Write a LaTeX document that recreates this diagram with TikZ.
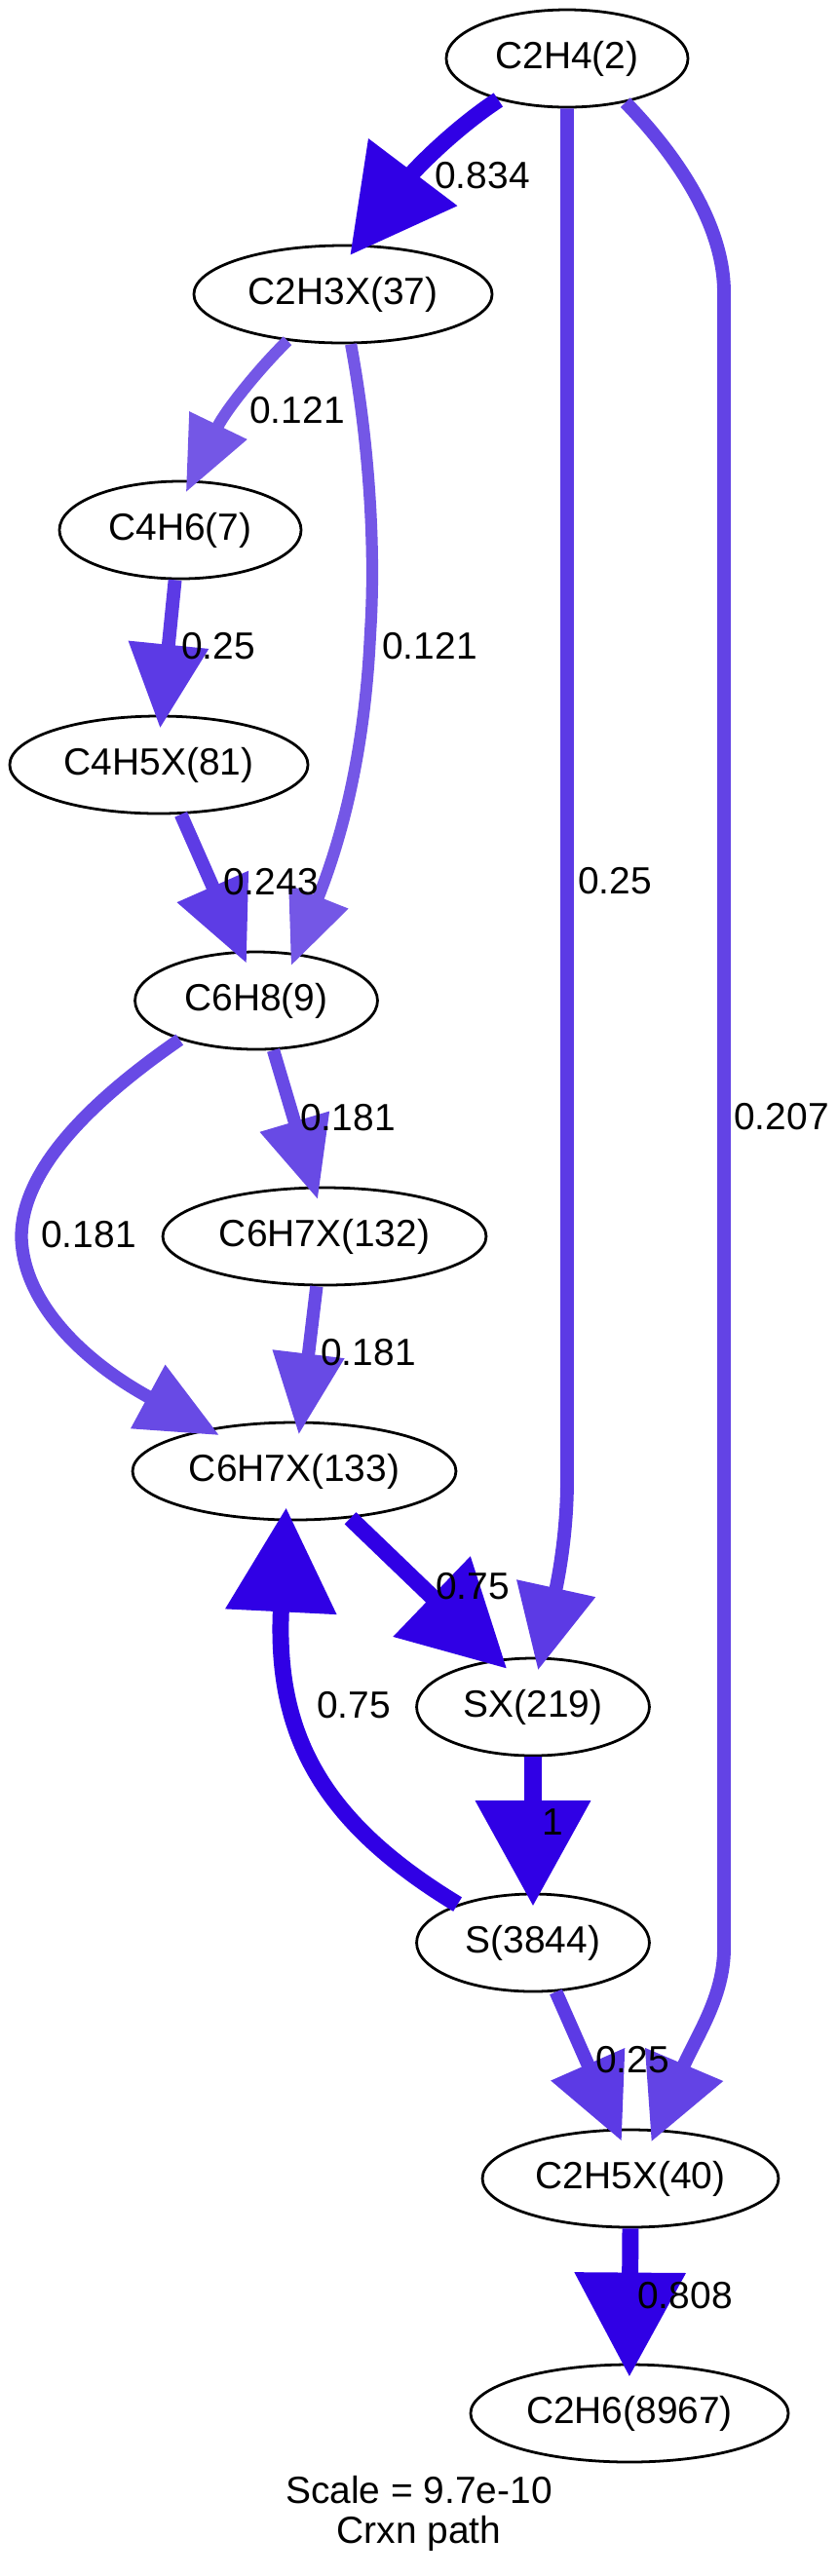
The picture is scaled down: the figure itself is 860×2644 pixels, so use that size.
\documentclass[tikz,border=0pt]{standalone}
\usepackage{fontspec}
\setmainfont{Liberation Sans}
\usetikzlibrary{shapes.geometric,arrows.meta}
\definecolor{cA}{RGB}{48,0,229}
\definecolor{cB}{RGB}{92,58,229}
\definecolor{cC}{RGB}{116,87,230}
\definecolor{cD}{RGB}{104,74,229}
\definecolor{cE}{RGB}{99,67,229}
\definecolor{cF}{RGB}{93,60,229}
\begin{document}
\begin{tikzpicture}[x=0.36pt,y=-0.36pt,
  sp/.style={draw,ellipse,line width=1pt,minimum height=36pt,inner sep=0pt,font=\fontsize{14pt}{16pt}\selectfont},
  lbl/.style={inner sep=0pt,font=\fontsize{14pt}{16pt}\selectfont},
  heavy/.style={draw=cA,line width=6.1pt,shorten >=-5pt,-{Triangle[length=38.5pt,width=39.6pt]}},
  heavyone/.style={draw=cA,line width=6.4pt,shorten >=-5pt,-{Triangle[length=39pt,width=41pt]}},
  wtf/.style={draw=cB,line width=5pt,shorten >=-5pt,-{Triangle[length=31pt,width=28.5pt]}},
  wtft/.style={draw=cF,line width=5pt,shorten >=-5pt,-{Triangle[length=31pt,width=27.5pt]}},
  wtz/.style={draw=cE,line width=5pt,shorten >=-5pt,-{Triangle[length=31pt,width=30pt]}},
  wei/.style={draw=cD,line width=4.8pt,shorten >=-5pt,-{Triangle[length=30pt,width=25.5pt]}},
  wot/.style={draw=cC,line width=4.4pt,shorten >=-5pt,-{Triangle[length=27.5pt,width=22.5pt]}}
]
\useasboundingbox (0,0) rectangle (860,2644);
% nodes
\node[sp,minimum width=89.3pt]  (A) at (582,60)   {C2H4(2)};
\node[sp,minimum width=110.2pt] (B) at (352,302)  {C2H3X(37)};
\node[sp,minimum width=89.3pt]  (C) at (185,544)  {C4H6(7)};
\node[sp,minimum width=110.2pt] (D) at (163,785)  {C4H5X(81)};
\node[sp,minimum width=89.6pt]  (E) at (263,1027) {C6H8(9)};
\node[sp,minimum width=119.5pt] (F) at (333,1269) {C6H7X(132)};
\node[sp,minimum width=119.5pt] (G) at (302,1510) {C6H7X(133)};
\node[sp,minimum width=86pt]    (H) at (547,1752) {SX(219)};
\node[sp,minimum width=86pt]    (I) at (547,1994) {S(3844)};
\node[sp,minimum width=109.4pt] (J) at (647,2236) {C2H5X(40)};
\node[sp,minimum width=117.4pt] (K) at (646,2477) {C2H6(8967)};
% edges
\draw[heavy] (A.211) .. controls (465,133) and (425,175) .. (B.73);
\draw[wot] (B.220) .. controls (268,376) and (232,420) .. (C.77);
\draw[wtf] (C.-96) -- (D.87);
\draw[wot] (B.-81) .. controls (378,450) and (386,560) .. (380,650) .. controls (375,760) and (355,850) .. (E.50.6);
\draw[wtft] (D.-66) -- (E.107);
\draw[wei] (E.-71) -- (F.102);
\draw[wei] (E.207.5) .. controls (105,1122) and (22,1195) .. (22,1270) .. controls (24,1340) and (90,1400) .. (G.154.6);
\draw[wei] (F.-99) -- (G.83);
\draw[heavy] (G.-40.6) -- (H.127);
\draw[wtf] (A.-90) -- (582,1520) .. controls (582,1570) and (574,1615) .. (H.81);
\draw[wtz] (A.-37.3) .. controls (700,165) and (743,235) .. (743,300) -- (743,2000) .. controls (743,2050) and (714,2091) .. (J.62.2);
\draw[heavyone] (H.south) -- (I.north);
\draw[heavy] (I.153.6) .. controls (330,1870) and (282,1780) .. (G.-100.2);
\draw[wtf] (I.-65.9) -- (J.106.8);
\draw[heavy] (J.south) -- (K.north);
% labels
\node[lbl] (l1) at (495,180) {0.834};
\node[lbl] (l2) at (305,421) {0.121};
\node[lbl] (l3) at (224,663) {0.25};
\node[lbl] (l4) at (441,663) {0.121};
\node[lbl] (l5) at (278,905) {0.243};
\node[lbl] (l6) at (631,904) {0.25};
\node[lbl] (l7) at (357,1147) {0.181};
\node[lbl] (l8) at (802,1146) {0.207};
\node[lbl] (l9) at (91,1267) {0.181};
\node[lbl] (l10) at (378,1388) {0.181};
\node[lbl] (l11) at (485,1628) {0.75};
\node[lbl] (l12) at (363,1750) {0.75};
\node[lbl] (l13) at (567,1870) {1};
\node[lbl] (l14) at (649,2114) {0.25};
\node[lbl] (l15) at (703,2356) {0.808};
\node[lbl,align=center,font=\fontsize{14pt}{15pt}\selectfont] (cap) at (430,2580) {Scale = 9.7e-10\\Crxn path};
\end{tikzpicture}
\end{document}
